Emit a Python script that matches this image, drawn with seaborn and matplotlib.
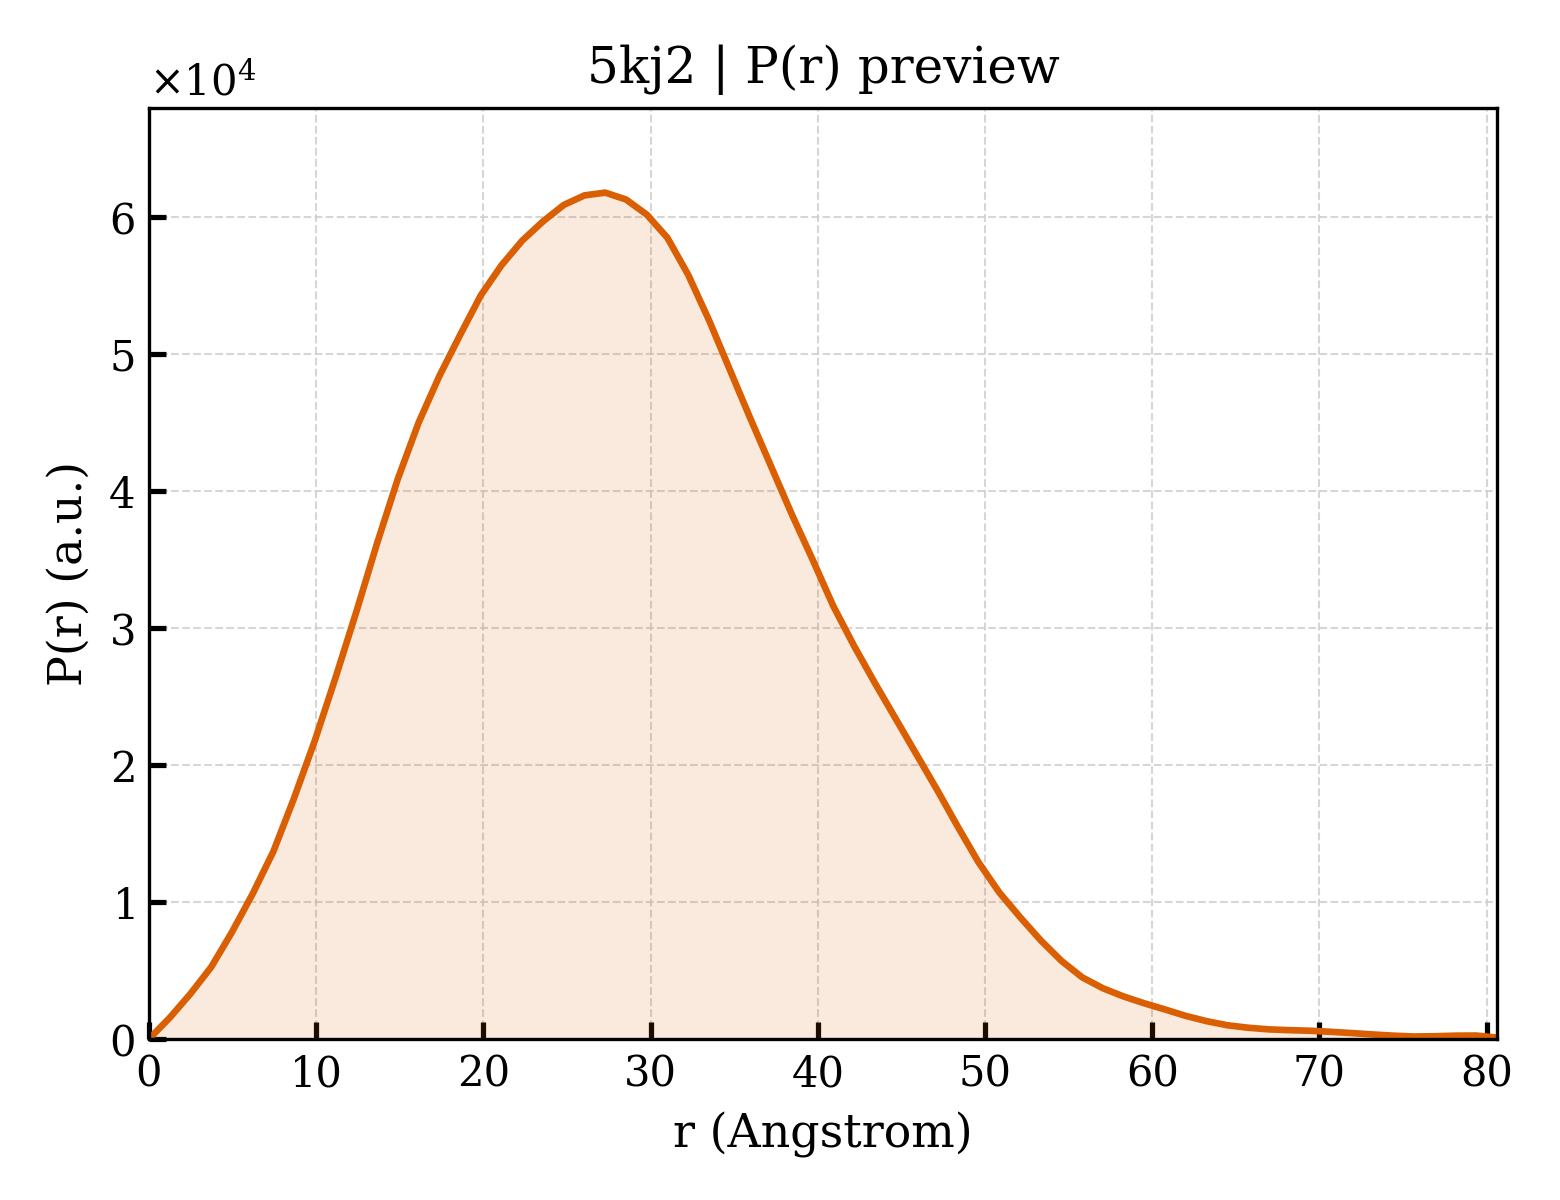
import matplotlib
matplotlib.use("Agg")
import pandas as pd
import seaborn as sns
from matplotlib import pyplot as plt

####################################
# data
####################################
r_step = 80.62 / 65
r_index = list(range(66))
pr_values = [
    0.0, 0.155, 0.33, 0.525, 0.78, 1.06, 1.37, 1.76, 2.18, 2.64,
    3.12, 3.62, 4.09, 4.50, 4.84, 5.14, 5.43, 5.65, 5.83, 5.97,
    6.09, 6.16, 6.18, 6.13, 6.02, 5.85, 5.58, 5.25, 4.89, 4.53,
    4.18, 3.83, 3.50, 3.16, 2.87, 2.60, 2.34, 2.08, 1.82, 1.55,
    1.29, 1.07, 0.89, 0.72, 0.57, 0.45, 0.37, 0.31, 0.26, 0.215,
    0.168, 0.13, 0.10, 0.082, 0.07, 0.064, 0.06, 0.052, 0.043, 0.033,
    0.024, 0.018, 0.02, 0.024, 0.025, 0.01,
]

title = "5kj2 | P(r) preview"
x_label = "r (Angstrom)"
y_label = "P(r) (a.u.)"
line_color = "#D95F02"

df = pd.DataFrame({
    "r": [i * r_step for i in r_index],
    "pr": [v * 1e4 for v in pr_values],
})

####################################
# style
####################################
sns.set_theme(
    style="ticks",
    rc={
        "xtick.direction": "in",
        "ytick.direction": "in",
        "xtick.major.size": 4,
        "ytick.major.size": 4,
        "axes.linewidth": 0.8,
        "text.color": "black",
        "axes.labelcolor": "black",
        "xtick.color": "black",
        "ytick.color": "black",
        "axes.edgecolor": "black",
    },
)
plt.rcParams["font.family"] = ["DejaVu Serif"]
plt.rcParams["mathtext.fontset"] = "dejavuserif"

####################################
# plot
####################################
fig, ax = plt.subplots(figsize=(5.2, 4), dpi=300)
fig.subplots_adjust(left=0.0955, right=0.9596, bottom=0.1342, top=0.91)

ax.fill_between(df["r"], df["pr"], 0, color=line_color, alpha=0.13, linewidth=0)
sns.lineplot(data=df, x="r", y="pr", color=line_color, linewidth=1.6, ax=ax)

ax.set_xlim(0, df["r"].max())
ax.set_ylim(0, df["pr"].max() * 1.1)
ax.ticklabel_format(axis="y", style="sci", scilimits=(0, 0), useMathText=True)

ax.grid(True, linestyle="--", linewidth=0.5, color="#cccccc", alpha=0.8)
ax.set_axisbelow(True)

ax.set_title(title, fontsize=12, color="black")
ax.set_xlabel(x_label, fontsize=11)
ax.set_ylabel(y_label, fontsize=11)
ax.tick_params(labelsize=10)
ax.yaxis.get_offset_text().set_fontsize(10)

fig.savefig("out.png", dpi=300)
